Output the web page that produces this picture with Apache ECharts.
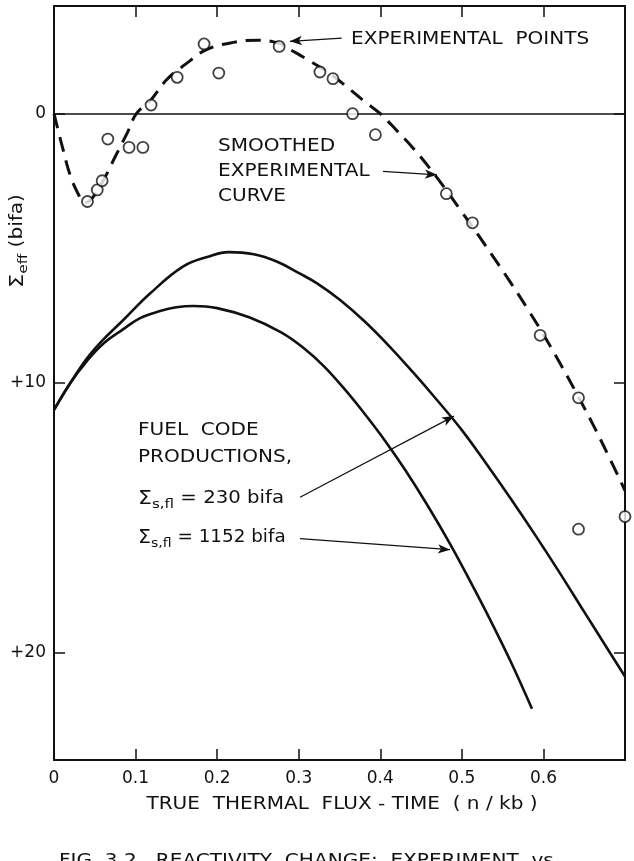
<!DOCTYPE html>
<html>
<head>
<meta charset="utf-8">
<script src="https://cdn.jsdelivr.net/npm/echarts@6/dist/echarts.min.js"></script>
<style>
  html, body { margin: 0; padding: 0; background: #fff; }
  #chart { width: 634px; height: 861px; }
</style>
</head>
<body>
<div id="chart"></div>
<script>
// 数据：实验点、平滑曲线、两条 FUEL 代码计算曲线
var expPoints = [
  [0.041, 3.26], [0.053, 2.83], [0.059, 2.49], [0.066, 0.94], [0.092, 1.25],
  [0.109, 1.25], [0.119, -0.32], [0.151, -1.35], [0.184, -2.59], [0.202, -1.51],
  [0.276, -2.50], [0.326, -1.55], [0.342, -1.30], [0.366, 0.0], [0.394, 0.78],
  [0.481, 2.97], [0.513, 4.05], [0.596, 8.23], [0.643, 10.55], [0.643, 15.43],
  [0.700, 14.96]
];
var smoothCurve = [
  [0, 0], [0.01, 1.2], [0.02, 2.3], [0.03, 3.0], [0.037, 3.3], [0.045, 3.2],
  [0.06, 2.5], [0.075, 1.6], [0.09, 0.7], [0.101, 0], [0.119, -0.52],
  [0.138, -1.26], [0.163, -1.88], [0.187, -2.38], [0.22, -2.65], [0.25, -2.73],
  [0.275, -2.62], [0.293, -2.32], [0.314, -1.95], [0.34, -1.45], [0.36, -0.97],
  [0.38, -0.47], [0.40, 0.0], [0.42, 0.62], [0.44, 1.27], [0.46, 2.0],
  [0.48, 2.8], [0.50, 3.65], [0.52, 4.5], [0.54, 5.38], [0.56, 6.28],
  [0.58, 7.22], [0.60, 8.2], [0.62, 9.25], [0.64, 10.35], [0.66, 11.5],
  [0.68, 12.72], [0.70, 14.0]
];
var fuel230 = [
  [0, 11], [0.02, 10.0], [0.04, 9.1], [0.06, 8.4], [0.085, 7.66], [0.118, 6.67],
  [0.158, 5.68], [0.19, 5.3], [0.214, 5.14], [0.245, 5.22], [0.273, 5.49],
  [0.301, 5.93], [0.322, 6.29], [0.35, 6.9], [0.38, 7.69], [0.41, 8.6],
  [0.44, 9.6], [0.47, 10.65], [0.50, 11.75], [0.53, 13.0], [0.56, 14.3],
  [0.59, 15.65], [0.62, 17.05], [0.65, 18.5], [0.675, 19.7], [0.7, 20.9]
];
var fuel1152 = [
  [0, 11], [0.02, 10.0], [0.04, 9.2], [0.06, 8.55], [0.085, 8.0], [0.105, 7.6],
  [0.13, 7.33], [0.15, 7.19], [0.171, 7.14], [0.2, 7.22], [0.24, 7.57],
  [0.279, 8.13], [0.306, 8.7], [0.331, 9.38], [0.356, 10.22], [0.381, 11.15],
  [0.406, 12.15], [0.431, 13.25], [0.458, 14.55], [0.486, 16.0], [0.51, 17.35],
  [0.534, 18.75], [0.56, 20.35], [0.586, 22.1]
];
var yTicks = [0, 10, 20];
// 箭头（数据坐标）
var arrows = [
  [[0.3527, -2.81], [0.2893, -2.69]],
  [[0.4034, 2.14], [0.4695, 2.27]],
  [[0.3016, 14.24], [0.4904, 11.23]],
  [[0.3016, 15.78], [0.4855, 16.19]]
];

var FONT = 'DejaVu Sans';
var INK = '#111';
var SX = 1.18; // 原图字母间距较宽，横向拉伸

(function () {
  var myChart = echarts.init(document.getElementById('chart'));

  var sigmaRich = {
    s: { fontSize: 19, fontFamily: FONT, color: INK },
    sub: { fontSize: 13, fontFamily: FONT, color: INK, padding: [12, 0, 0, 0] },
    n: { fontSize: 17, fontFamily: FONT, color: INK }
  };
  var txt = function (x, y, s, align, rich, sx) {
    var style = { text: s, x: 0, y: 0, fill: INK, font: '17px ' + FONT,
      textAlign: align || 'left', textVerticalAlign: 'middle' };
    if (rich) style.rich = sigmaRich;
    return { type: 'text', x: x, y: y, scaleX: sx || SX, style: style, z: 100 };
  };

  var xAxisBase = {
    type: 'value', min: 0, max: 0.7, interval: 0.1,
    axisLine: { show: true, onZero: false, lineStyle: { color: INK, width: 2 } },
    axisTick: { show: true, inside: true, length: 11, lineStyle: { color: INK, width: 1.5 } },
    splitLine: { show: false }
  };
  var yAxisBase = {
    type: 'value', min: -4, max: 24, inverse: true,
    axisLine: { show: true, onZero: false, lineStyle: { color: INK, width: 2 } },
    axisTick: { show: true, inside: true, length: 11, customValues: yTicks, lineStyle: { color: INK, width: 1.5 } },
    splitLine: { show: false }
  };

  var yName = txt(18, 241, '{s|Σ}{sub|eff} {n|(bifa)}', 'center', true);
  yName.rotation = Math.PI / 2;

  var option = {
    animation: false,
    backgroundColor: '#fff',
    grid: { left: 54, right: 9, top: 6, bottom: 101, show: false },
    xAxis: [
      Object.assign({}, xAxisBase, {
        position: 'bottom',
        axisLabel: {
          margin: 10, fontFamily: FONT, fontSize: 17, color: INK,
          formatter: function (v) { return v === 0 ? '0' : (v >= 0.69 ? '' : v.toFixed(1)); }
        }
      }),
      Object.assign({}, xAxisBase, { position: 'top', axisLabel: { show: false } })
    ],
    yAxis: [
      Object.assign({}, yAxisBase, {
        position: 'left',
        axisLabel: {
          customValues: yTicks, margin: 8, fontFamily: FONT, fontSize: 17, color: INK,
          formatter: function (v) { return v === 0 ? '0' : '+' + v; }
        }
      }),
      Object.assign({}, yAxisBase, { position: 'right', axisLabel: { show: false } })
    ],
    graphic: [
      txt(351, 40, 'EXPERIMENTAL  POINTS'),
      txt(218, 147, 'SMOOTHED'),
      txt(218, 172, 'EXPERIMENTAL'),
      txt(218, 197, 'CURVE'),
      txt(138, 431, 'FUEL  CODE'),
      txt(138, 458, 'PRODUCTIONS,'),
      txt(138, 499, '{s|Σ}{sub|s,fl} {n|= 230 bifa}', 'left', true, 1.16),
      txt(138, 538, '{s|Σ}{sub|s,fl} {n|= 1152 bifa}', 'left', true, 1.08),
      yName,
      txt(342, 805, 'TRUE  THERMAL  FLUX - TIME  ( n / kb )', 'center'),
      txt(59, 862, 'FIG. 3.2   REACTIVITY  CHANGE:  EXPERIMENT  vs')
    ],
    series: [
      {
        name: 'fuel230', type: 'line', smooth: 0.4, symbol: 'none',
        data: fuel230, lineStyle: { color: INK, width: 2.6 },
        markLine: {
          silent: true, symbol: 'none', animation: false,
          lineStyle: { color: INK, width: 1.6, type: 'solid' }, label: { show: false },
          data: [{ yAxis: 0 }]
        }
      },
      {
        name: 'fuel1152', type: 'line', smooth: 0.4, symbol: 'none',
        data: fuel1152, lineStyle: { color: INK, width: 2.6 },
        markLine: {
          silent: true, animation: false, symbol: ['none', 'arrow'], symbolSize: [7, 12],
          lineStyle: { color: INK, width: 1.2, type: 'solid' }, label: { show: false },
          data: arrows.map(function (a) {
            return [{ coord: a[0] }, { coord: a[1] }];
          })
        }
      },
      {
        name: 'smoothed', type: 'line', smooth: 0.4, symbol: 'none',
        data: smoothCurve, lineStyle: { color: INK, width: 3, type: [15, 9] }
      },
      {
        name: 'points', type: 'scatter', symbol: 'circle', symbolSize: 11, z: 5,
        data: expPoints,
        itemStyle: { color: '#fff', borderColor: INK, borderWidth: 1.8 }
      }
    ]
  };

  if (option && typeof option === 'object') {
    myChart.setOption(option);
  }
  window.addEventListener('resize', myChart.resize);
})();
</script>
</body>
</html>
